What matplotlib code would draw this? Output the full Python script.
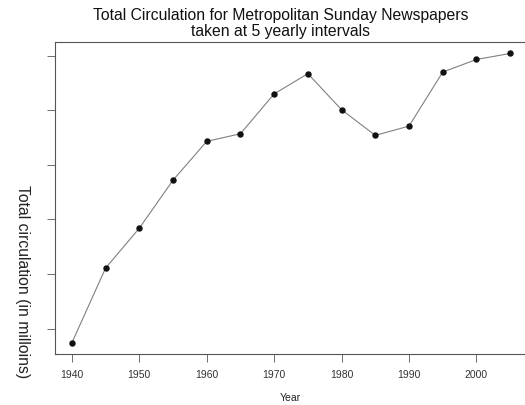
import matplotlib
matplotlib.use("Agg")
import matplotlib.pyplot as plt

years = [1940, 1945, 1950, 1955, 1960, 1965, 1970, 1975, 1980, 1985, 1990, 1995, 2000, 2005]
circulation = [17.4, 31.1, 38.4, 47.2, 54.3, 55.7, 63.0, 66.7, 60.1, 55.4, 57.1, 67.0, 69.3, 70.4]
x_ticks = [1940, 1950, 1960, 1970, 1980, 1990, 2000]
y_ticks = [20, 30, 40, 50, 60, 70]

plt.rcParams['font.family'] = ['Liberation Sans', 'DejaVu Sans']

fig = plt.figure(figsize=(5.25, 4.06), dpi=100)
ax = fig.add_axes([55/525, 51/406, 1.0 - 55/525, (355-43)/406])

ax.plot(years, circulation, color='#808080', lw=0.8, zorder=1)
ax.scatter(years, circulation, s=13, color='#111111', zorder=2)

ax.set_xlim(1937.5, 2007.2)
ax.set_ylim(15.37, 72.5)
ax.set_xticks(x_ticks)
ax.set_xticklabels([str(t) for t in x_ticks], fontsize=7.5, color='#333333')
ax.set_yticks(y_ticks)
ax.set_yticklabels([])

for s in ['left', 'top', 'bottom']:
    ax.spines[s].set_color('#555555')
    ax.spines[s].set_linewidth(0.8)
ax.spines['right'].set_visible(False)
ax.tick_params(axis='both', colors='#555555', length=6, width=0.6, pad=5)
ax.tick_params(axis='x', labelcolor='#333333')

ax.set_xlabel('Year', fontsize=7.5, labelpad=9, color='#222222')
ax.set_ylabel('Total circulation (in milloins)', fontsize=11.3, rotation=270,
              color='#222222', va='center', ha='center')
ax.yaxis.set_label_coords(-0.07, 0.235)

fig.text(0.535, 0.98, 'Total Circulation for Metropolitan Sunday Newspapers\ntaken at 5 yearly intervals',
         ha='center', va='top', fontsize=11.3, linespacing=1.1, color='#111111')

fig.savefig('out.png', dpi=100)
